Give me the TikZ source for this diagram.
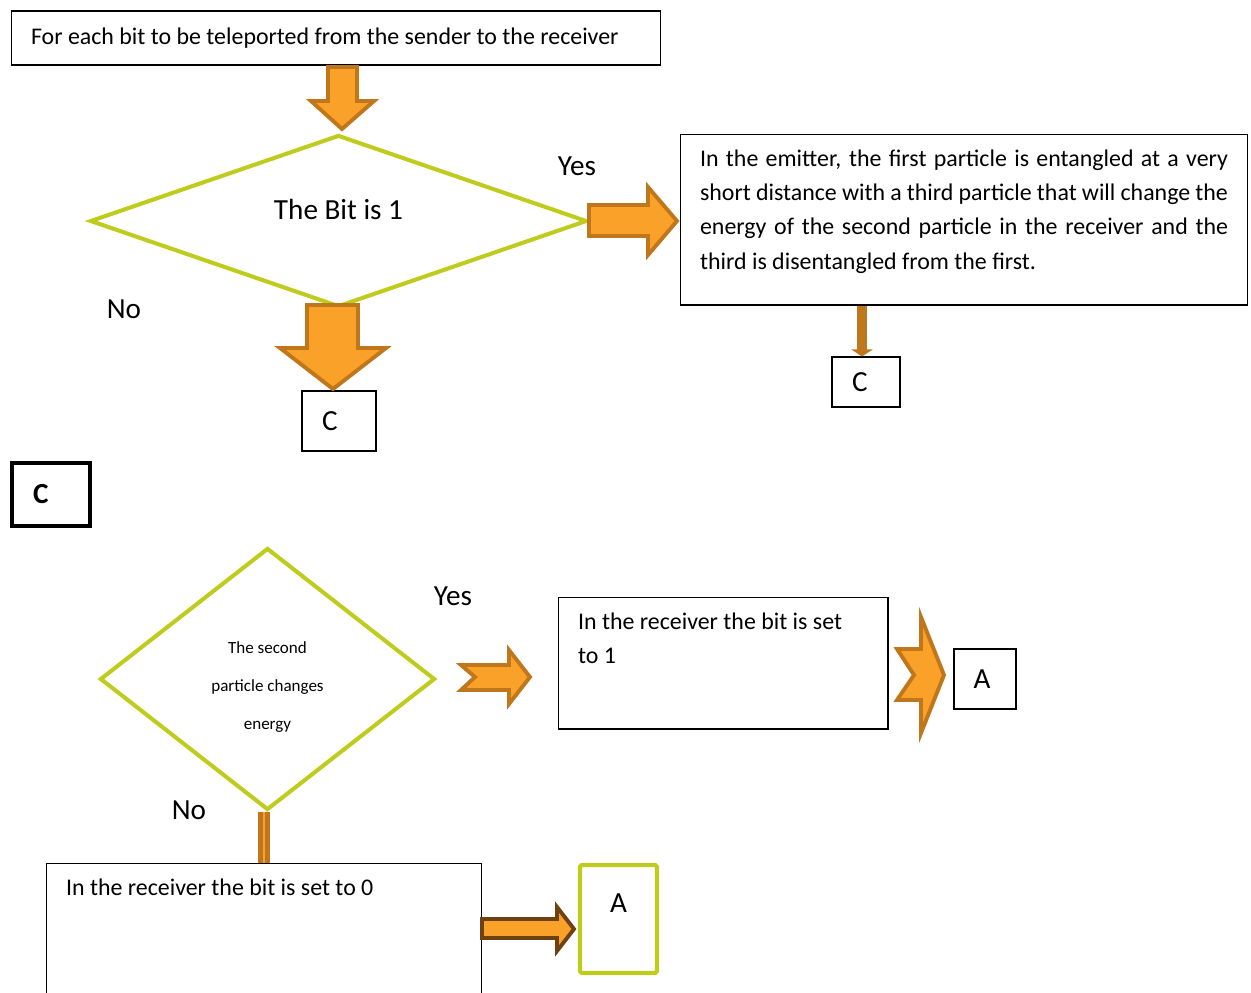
\documentclass[tikz,border=0pt]{standalone}
\usepackage{fontspec}
\setmainfont{Carlito}
\usetikzlibrary{shapes.geometric,arrows.meta,positioning}
\definecolor{arrowfill}{HTML}{F9A128}
\definecolor{arrowline}{HTML}{C0761B}
\definecolor{decline}{HTML}{BFCC1E}
\definecolor{brownline}{HTML}{6D4210}
\begin{document}
\begin{tikzpicture}
	[x=0.02cm,y=-0.02cm,
	box/.style={draw,line width=0.6pt,inner sep=0pt},
	textbox/.style={box,inner xsep=0.4cm,inner ysep=0.31cm},
	decision/.style={diamond,draw=decline,line width=2.3pt,inner sep=0pt},
	blockarrow/.style={fill=arrowfill,draw=arrowline,line width=2.2pt,line join=miter},
	answer/.style={font=\fontsize{16.6}{20}\selectfont},
	body/.style={font=\fontsize{13.6}{19.6}\selectfont},
	>=latex]
	\useasboundingbox (0,0) rectangle (1251,992);
	\clip (0,0) rectangle (1251,992);
	% first part
	\node[box,body,minimum width=13cm,minimum height=1.08cm,inner xsep=0.4cm] (start) at (336,38) {\makebox[12.2cm][l]{For each bit to be teleported from the sender to the receiver}};
	\node[decision,minimum width=9.94cm,minimum height=3.44cm,label={[answer,yshift=0.24cm]center:The Bit is 1}] (bit) at (338.5,221) {};
	\node[answer] (yes1) at (577,166) {Yes};
	\node[answer] (no1) at (124,309) {No};
	\node[textbox,body] (emit) at (964,219.5) {\parbox[c][2.8cm][t]{10.56cm}{In the emitter, the first particle is entangled at a very\linebreak short distance with a third particle that will change the\linebreak energy of the second particle in the receiver and the\linebreak third is disentangled from the first.\par}};
	\node[box,answer,minimum width=1.48cm,minimum height=1.2cm] (c1) at (339,421) {C\hspace*{0.36cm}};
	\node[box,answer,minimum width=1.36cm,minimum height=1cm] (c2) at (866,382) {C\hspace*{0.24cm}};
	\draw[blockarrow] (328,67) -- (357,67) -- (357,101) -- (374,101) -- (342,129) -- (311,101) -- (328,101) -- cycle;
	\draw[blockarrow] (589,205) -- (648,205) -- (648,187) -- (677,221) -- (648,255) -- (648,236) -- (589,236) -- cycle;
	\draw[blockarrow] (307,305) -- (358,305) -- (358,348) -- (386,348) -- (333,389) -- (280,348) -- (307,348) -- cycle;
	\draw[arrowline,line width=5.4pt,-{Triangle[width=12pt,length=4pt]}] ([xshift=-0.08cm]emit.south -| c2) -- ([xshift=-0.08cm]c2.north);
	% part C
	\node[draw,line width=2.3pt,minimum width=1.56cm,minimum height=1.26cm,text width=0.72cm,inner xsep=0.42cm,align=left,font=\bfseries\fontsize{16.6}{20}\selectfont] (conn) at (51,494.5) {C};
	\node[decision,minimum width=6.7cm,minimum height=5.24cm,label={[align=center,font=\fontsize{9.7}{21.6}\selectfont,yshift=-0.16cm]center:The second\\particle changes\\energy}] (energy) at (267.5,679) {};
	\node[answer] (yes2) at (453,596) {Yes};
	\node[answer] (no2) at (189,810) {No};
	\node[textbox,body] (recv1) at (723,663) {\parbox[c][2.02cm][t]{5.8cm}{In the receiver the bit is set\\to 1\par}};
	\node[box,answer,minimum width=1.24cm,minimum height=1.2cm] (a1) at (985,679) {A\hspace*{0.12cm}};
	\node[textbox,body] (recv0) at (264,946.5) {\parbox[c][2.72cm][t]{7.92cm}{In the receiver the bit is set to 0\par}};
	\node[draw=decline,line width=2.3pt,rounded corners=1pt,inner xsep=0pt,inner ysep=0.58cm,answer] (a2) at (618.5,919) {\parbox[c][1cm][t]{1.54cm}{\centering A\par}};
	\draw[blockarrow] (461,665) -- (509,665) -- (509,650) -- (530,677) -- (509,704) -- (509,690) -- (461,690) -- (475,677) -- cycle;
	\draw[blockarrow] (897,649) -- (921,649) -- (921,617) -- (944,675) -- (921,733) -- (921,700) -- (897,700) -- (914,675) -- cycle;
	\draw[arrowline,line width=2.5pt,double=arrowfill,double distance=1.5pt] ([xshift=-0.07cm]energy.south) -- ([xshift=-0.07cm]energy.south |- recv0.north);
	\draw[blockarrow,draw=brownline] (482,919) -- (557,919) -- (557,907) -- (574,929) -- (557,951) -- (557,938) -- (482,938) -- cycle;
\end{tikzpicture}
\end{document}
